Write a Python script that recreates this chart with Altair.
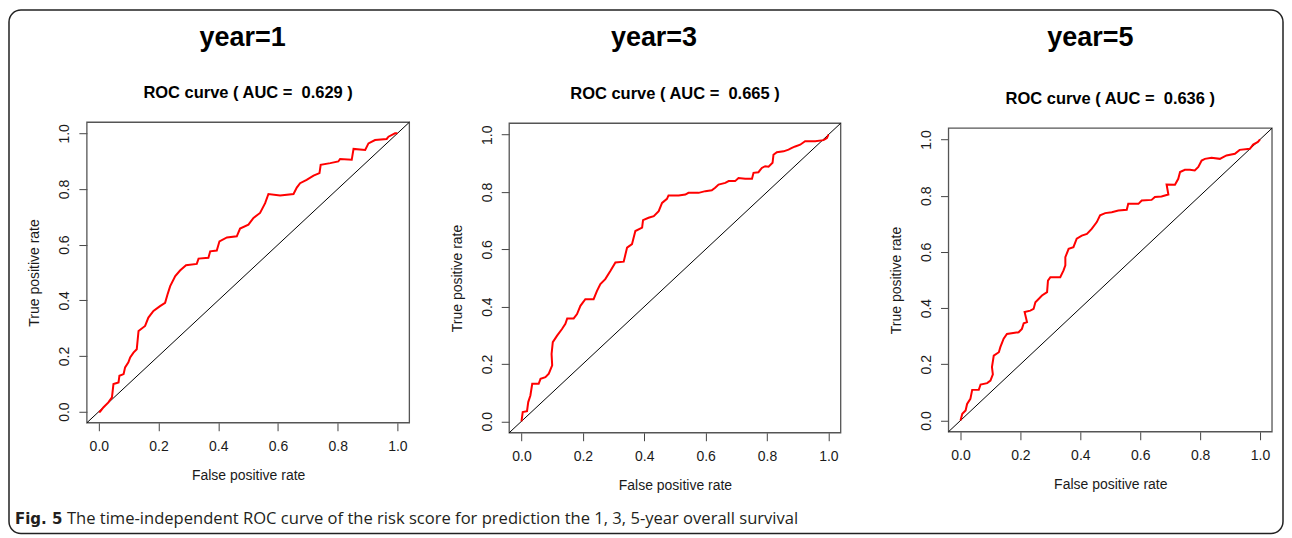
import altair as alt
import pandas as pd

# ---------------- data ----------------
years = ["year=1", "year=3", "year=5"]
auc_labels = ["ROC curve ( AUC =\u00a0 0.629 )", "ROC curve ( AUC =\u00a0 0.665 )", "ROC curve ( AUC =\u00a0 0.636 )"]
tick_values = [0.0, 0.2, 0.4, 0.6, 0.8, 1.0]
x_title = "False positive rate"
y_title = "True positive rate"
caption_bold = "Fig. 5"
caption_text = "The time-independent ROC curve of the risk score for prediction the 1, 3, 5-year overall survival"

roc_year1 = [
    (0.0, 0.0), (0.004, 0.0), (0.016, 0.016), (0.032, 0.033), (0.044, 0.051), (0.049, 0.099),
    (0.066, 0.105), (0.069, 0.129), (0.083, 0.135), (0.088, 0.159), (0.099, 0.177), (0.105, 0.195),
    (0.116, 0.212), (0.127, 0.224), (0.133, 0.290), (0.155, 0.308), (0.166, 0.338), (0.183, 0.362),
    (0.205, 0.379), (0.222, 0.391), (0.230, 0.421), (0.239, 0.451), (0.256, 0.487), (0.272, 0.507),
    (0.292, 0.526), (0.328, 0.531), (0.334, 0.550), (0.367, 0.553), (0.373, 0.576), (0.395, 0.579),
    (0.404, 0.612), (0.429, 0.626), (0.462, 0.630), (0.473, 0.658), (0.501, 0.672), (0.518, 0.696),
    (0.540, 0.714), (0.557, 0.749), (0.568, 0.782), (0.607, 0.777), (0.652, 0.782), (0.663, 0.805),
    (0.674, 0.821), (0.696, 0.833), (0.719, 0.848), (0.739, 0.857), (0.743, 0.887), (0.775, 0.893),
    (0.802, 0.899), (0.808, 0.908), (0.847, 0.905), (0.853, 0.944), (0.892, 0.940), (0.903, 0.964),
    (0.925, 0.976), (0.964, 0.980), (0.970, 0.988), (0.992, 1.0), (1.0, 1.0),
]
roc_year3 = [
    (0.0, 0.0), (0.004, 0.032), (0.018, 0.035), (0.022, 0.067), (0.029, 0.090), (0.035, 0.131),
    (0.056, 0.131), (0.062, 0.148), (0.078, 0.154), (0.089, 0.166), (0.100, 0.195), (0.098, 0.235),
    (0.102, 0.276), (0.116, 0.299), (0.132, 0.322), (0.143, 0.340), (0.149, 0.359), (0.170, 0.359),
    (0.181, 0.374), (0.192, 0.403), (0.208, 0.426), (0.235, 0.426), (0.246, 0.455), (0.257, 0.479),
    (0.273, 0.496), (0.290, 0.525), (0.306, 0.554), (0.333, 0.557), (0.344, 0.606), (0.360, 0.618),
    (0.371, 0.664), (0.393, 0.676), (0.396, 0.702), (0.414, 0.710), (0.431, 0.716), (0.447, 0.733),
    (0.458, 0.762), (0.474, 0.776), (0.479, 0.788), (0.512, 0.788), (0.534, 0.791), (0.544, 0.797),
    (0.577, 0.797), (0.599, 0.803), (0.620, 0.806), (0.631, 0.815), (0.642, 0.826), (0.664, 0.832),
    (0.675, 0.838), (0.696, 0.838), (0.707, 0.849), (0.729, 0.846), (0.751, 0.846), (0.756, 0.867),
    (0.772, 0.869), (0.783, 0.884), (0.794, 0.890), (0.805, 0.888), (0.818, 0.902), (0.821, 0.930),
    (0.832, 0.939), (0.854, 0.942), (0.870, 0.948), (0.881, 0.954), (0.892, 0.959), (0.908, 0.965),
    (0.924, 0.977), (0.957, 0.977), (0.984, 0.981), (0.995, 0.988), (1.0, 1.0),
]
roc_year5 = [
    (0.0, 0.0), (0.006, 0.024), (0.017, 0.036), (0.022, 0.059), (0.033, 0.077), (0.039, 0.109),
    (0.061, 0.109), (0.067, 0.128), (0.089, 0.133), (0.100, 0.142), (0.108, 0.164), (0.105, 0.190),
    (0.111, 0.231), (0.128, 0.243), (0.133, 0.261), (0.144, 0.291), (0.155, 0.308), (0.194, 0.314),
    (0.205, 0.326), (0.211, 0.346), (0.222, 0.350), (0.214, 0.386), (0.233, 0.391), (0.244, 0.397),
    (0.250, 0.421), (0.272, 0.445), (0.289, 0.457), (0.292, 0.498), (0.300, 0.510), (0.333, 0.510),
    (0.344, 0.534), (0.350, 0.552), (0.350, 0.581), (0.361, 0.611), (0.377, 0.617), (0.388, 0.647),
    (0.405, 0.658), (0.422, 0.664), (0.438, 0.682), (0.455, 0.706), (0.466, 0.730), (0.483, 0.738),
    (0.505, 0.741), (0.527, 0.747), (0.555, 0.750), (0.560, 0.771), (0.594, 0.771), (0.605, 0.783),
    (0.638, 0.785), (0.649, 0.795), (0.671, 0.797), (0.694, 0.804), (0.688, 0.840), (0.716, 0.839),
    (0.727, 0.860), (0.733, 0.884), (0.749, 0.892), (0.766, 0.892), (0.782, 0.890), (0.794, 0.902),
    (0.805, 0.925), (0.816, 0.931), (0.838, 0.935), (0.866, 0.931), (0.877, 0.937), (0.888, 0.943),
    (0.916, 0.949), (0.932, 0.963), (0.966, 0.967), (0.977, 0.982), (0.993, 0.991), (1.0, 1.0),
]

# R's default axis range: data range extended by 4% on each side
LIM = [-0.04, 1.04]

FONT = "Liberation Sans"
TXT = "#1a1a1a"


def panel(roc, year, auc_label, W, box_w, box_h, extra_top, year_x, first=False):
    ext = LIM[1] - LIM[0]
    x_max = LIM[1] + (W - box_w) * ext / box_w
    y_max = LIM[1] + extra_top * ext / box_h
    H = box_h + extra_top
    xs = alt.Scale(domain=[LIM[0], x_max], nice=False, zero=False)
    ys = alt.Scale(domain=[LIM[0], y_max], nice=False, zero=False)

    df = pd.DataFrame(roc, columns=["fpr", "tpr"])
    df["order"] = range(len(df))

    x_axis = alt.Axis(
        values=tick_values, format=".1f", grid=False, domain=False,
        tickSize=8, tickColor="#444", tickWidth=1, labelFlush=False,
        labelFont=FONT, labelFontSize=14, labelColor=TXT, labelPadding=9,
        title=x_title, titleFont=FONT, titleFontSize=14, titleFontWeight="normal",
        titleColor=TXT, titlePadding=14.5, titleX=box_w / 2,
    )
    y_axis = alt.Axis(
        values=tick_values, format=".1f", grid=False, domain=False,
        tickSize=8, tickColor="#444", tickWidth=1, labelFlush=False,
        labelFont=FONT, labelFontSize=14, labelColor=TXT, labelPadding=10,
        labelAngle=270, labelAlign="center", labelBaseline="alphabetic",
        title=y_title, titleFont=FONT, titleFontSize=14, titleFontWeight="normal",
        titleColor=TXT, titlePadding=16, titleY=extra_top + box_h / 2,
    )

    box_df = pd.DataFrame({"x": [LIM[0]], "x2": [LIM[1]], "y": [LIM[0]], "y2": [LIM[1]]})
    box = alt.Chart(box_df).mark_rect(fillOpacity=0, stroke="#555", strokeWidth=1.3).encode(
        x=alt.X("x:Q", scale=xs, axis=x_axis), x2="x2:Q",
        y=alt.Y("y:Q", scale=ys, axis=y_axis), y2="y2:Q",
    )

    diag_df = pd.DataFrame({"x": LIM, "y": LIM})
    diag = alt.Chart(diag_df).mark_line(color="#000000", strokeWidth=1).encode(
        x=alt.X("x:Q", scale=xs, axis=x_axis),
        y=alt.Y("y:Q", scale=ys, axis=y_axis),
    )

    curve = alt.Chart(df).mark_line(color="#ff0000", strokeWidth=2).encode(
        x=alt.X("fpr:Q", scale=xs, axis=x_axis),
        y=alt.Y("tpr:Q", scale=ys, axis=y_axis),
        order="order:Q",
    )

    t_df = pd.DataFrame({"year": [year], "auc": [auc_label]})
    year_text = alt.Chart(t_df).mark_text(
        font=FONT, fontSize=27, fontWeight="bold", color="#000", align="center", baseline="alphabetic"
    ).encode(text="year:N", x=alt.value(year_x), y=alt.value(-76.5))
    auc_text = alt.Chart(t_df).mark_text(
        font=FONT, fontSize=16.5, fontWeight="bold", color="#000", align="center", baseline="alphabetic"
    ).encode(text="auc:N", x=alt.value(box_w / 2), y=alt.value(extra_top - 24.5))

    layers = [box, diag, curve, year_text, auc_text]

    if first:
        frame_df = pd.DataFrame({"k": [0]})
        frame = alt.Chart(frame_df).mark_rect(
            fillOpacity=0, stroke="#222", strokeWidth=1.5, cornerRadius=12
        ).encode(x=alt.value(-78), x2=alt.value(1198), y=alt.value(-112.5), y2=alt.value(412))
        cap_df = pd.DataFrame({"b": [caption_bold], "t": [caption_text]})
        cap_b = alt.Chart(cap_df).mark_text(
            font="DejaVu Sans", fontSize=15, fontWeight="bold", color="#231f20", align="left", baseline="alphabetic"
        ).encode(text="b:N", x=alt.value(-72), y=alt.value(402.5))
        cap_t = alt.Chart(cap_df).mark_text(
            font="Open Sans", fontSize=16.6, color="#231f20", align="left", baseline="alphabetic"
        ).encode(text="t:N", x=alt.value(-20), y=alt.value(402.5))
        layers += [frame, cap_b, cap_t]

    return alt.layer(*layers).properties(width=W, height=H)


p1 = panel(roc_year1, years[0], auc_labels[0], W=323, box_w=323, box_h=301, extra_top=0, year_x=156, first=True)
p2 = panel(roc_year3, years[1], auc_labels[1], W=340, box_w=332, box_h=310, extra_top=1, year_x=145)
p3 = panel(roc_year5, years[2], auc_labels[2], W=324, box_w=324, box_h=304, extra_top=6, year_x=142)

chart = alt.hconcat(p1, p2, p3, spacing=100, bounds="flush").properties(
    padding=0, background="white"
).configure_view(stroke=None)

chart.save("out.html", embed_options={"renderer": "svg", "actions": False})
